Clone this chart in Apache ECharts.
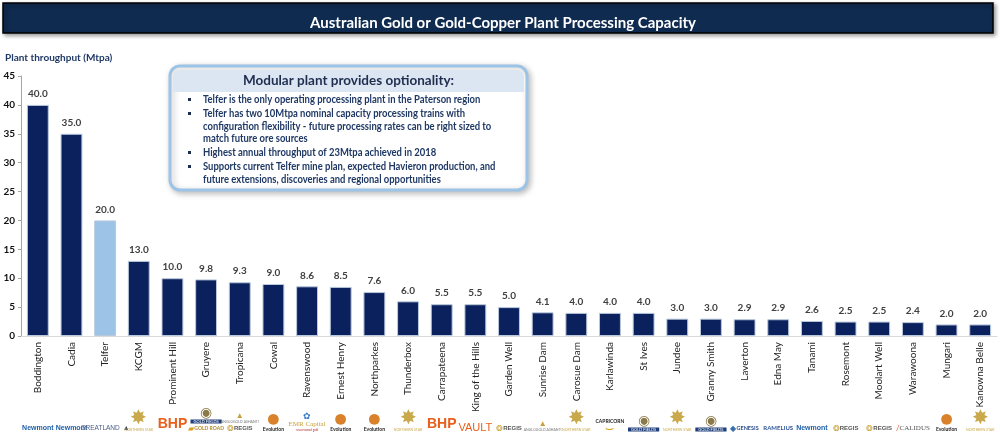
<!DOCTYPE html>
<html>
<head>
<meta charset="utf-8">
<script src="https://cdn.jsdelivr.net/npm/echarts@6/dist/echarts.min.js"></script>
<style>
  html, body { margin: 0; padding: 0; background: #fff; }
  #chart { width: 1000px; height: 437px; }
</style>
</head>
<body>
<div id="chart"></div>
<script>
// plant names and throughput (Mtpa)
const plants = ['Boddington', 'Cadia', 'Telfer', 'KCGM', 'Prominent Hill', 'Gruyere', 'Tropicana', 'Cowal',
  'Ravenswood', 'Ernest Henry', 'Northparkes', 'Thunderbox', 'Carrapateena', 'King of the Hills', 'Garden Well',
  'Sunrise Dam', 'Carosue Dam', 'Karlawinda', 'St Ives', 'Jundee', 'Granny Smith', 'Laverton', 'Edna May',
  'Tanami', 'Rosemont', 'Moolart Well', 'Warawoona', 'Mungari', 'Kanowna Belle']
const throughput = [40.0, 35.0, 20.0, 13.0, 10.0, 9.8, 9.3, 9.0, 8.6, 8.5, 7.6, 6.0, 5.5, 5.5, 5.0,
  4.1, 4.0, 4.0, 4.0, 3.0, 3.0, 2.9, 2.9, 2.6, 2.5, 2.5, 2.4, 2.0, 2.0]
// owner logos shown under each plant
const owners = ['Newmont', 'Newmont', 'Greatland', 'Northern Star', 'BHP', 'Gold Fields|Gold Road',
  'AngloGold|Regis', 'Evolution', 'EMR Capital', 'Evolution', 'Evolution', 'Northern Star', 'BHP', 'Vault',
  'Regis', 'AngloGold', 'Northern Star', 'Capricorn', 'Gold Fields', 'Northern Star', 'Gold Fields',
  'Genesis', 'Ramelius', 'Newmont', 'Regis', 'Regis', 'Calidus', 'Evolution', 'Northern Star']
const highlight = 'Telfer'
const yTicks = { min: 0, max: 45, interval: 5 }

const boxTitle = 'Modular plant provides optionality:'
const boxLines = [
  ['Telfer is the only operating processing plant in the Paterson region'],
  ['Telfer has two 10Mtpa nominal capacity processing trains with',
   'configuration flexibility - future processing rates can be right sized to',
   'match future ore sources'],
  ['Highest annual throughput of 23Mtpa achieved in 2018'],
  ['Supports current Telfer mine plan, expected Havieron production, and',
   'future extensions, discoveries and regional opportunities']
]

const NAVY = '#0b215e'
const LIGHT = '#9dc3e6'
const FONT = 'Lato'

const logoText = {
  'Newmont': '{nm|Newmont}',
  'BHP': '{bhp|BHP}',
  'Greatland': '{gl|GREATLAND} {glc|▲}',
  'Northern Star': '{nsStar|✸}\n{nsTxt|NORTHERN STAR}',
  'Evolution': '{evoDot|●}\n{evoTxt|Evolution}',
  'Gold Fields': '{gfC|◉}\n{gfTxt|GOLD FIELDS}',
  'Regis': '{rgM|❂}{rg|REGIS}',
  'AngloGold': '{agM|▲}\n{agTxt|ANGLOGOLD ASHANTI}',
  'EMR Capital': '{emM|✿}\n{em|EMR Capital}\n{emS|ravenswood gold}',
  'Vault': '{vt|VAULT}',
  'Capricorn': '{cp|CAPRICORN}\n{cpS|⌣}',
  'Genesis': '{gnM|◆}{gn|GENESIS}',
  'Ramelius': '{rm|RAMELIUS}',
  'Calidus': '{clM|/}{cl|CALIDUS}',
  'Gold Fields|Gold Road': '{gfC|◉}\n{gfTxt|GOLD FIELDS}\n{grM|▰}{gr|GOLD ROAD}',
  'AngloGold|Regis': '{agM|▲}\n{agTxt|ANGLOGOLD ASHANTI}\n{rgM|❂}{rg|REGIS}'
}

const chart = echarts.init(document.getElementById('chart'))

const boxX = 170, boxY = 66, boxW = 357, boxH = 124
const boxGraphics = [
  {
    type: 'rect',
    shape: { x: boxX, y: boxY, width: boxW, height: boxH, r: 10 },
    style: { fill: '#fff', stroke: LIGHT, lineWidth: 3, shadowBlur: 6, shadowColor: 'rgba(0,0,0,0.25)', shadowOffsetX: 2, shadowOffsetY: 2 },
    z: 10
  },
  {
    type: 'rect',
    shape: { x: boxX + 3, y: boxY + 4, width: boxW - 6, height: 22, r: [7, 7, 0, 0] },
    style: { fill: '#dce6f2' },
    z: 11
  },
  {
    type: 'text',
    x: boxX + boxW / 2, y: boxY + 15,
    style: { text: boxTitle, fill: '#1f2d4f', font: 'bold 13.5px ' + FONT, align: 'center', verticalAlign: 'middle' },
    z: 12
  }
]
let ly = boxY + 34
boxLines.forEach(item => {
  boxGraphics.push({
    type: 'rect',
    shape: { x: boxX + 18, y: ly - 2, width: 3, height: 3 },
    style: { fill: '#1f2d4f' },
    z: 12
  })
  item.forEach(line => {
    boxGraphics.push({
      type: 'text',
      x: boxX + 33, y: ly,
      scaleX: 0.9,
      style: { text: line, fill: '#1f3864', font: 'bold 10.5px ' + FONT, verticalAlign: 'middle' },
      z: 12
    })
    ly += 12.5
  })
  ly += 1.5
})

const option = {
  animation: false,
  textStyle: { fontFamily: FONT },
  title: [
    {
      text: 'Australian Gold or Gold-Copper Plant Processing Capacity',
      left: 498, top: 18, textAlign: 'center', textVerticalAlign: 'middle',
      textStyle: { color: '#fff', fontSize: 15, fontWeight: 'bold', fontFamily: FONT },
      z: 5
    },
    {
      text: 'Plant throughput (Mtpa)',
      left: 0, top: 48,
      textStyle: { color: '#1f3864', fontSize: 10, fontWeight: 'bold', fontFamily: FONT }
    }
  ],
  graphic: [
    {
      type: 'rect',
      shape: { x: 3, y: 3, width: 990, height: 30 },
      style: { fill: '#0f2b50', stroke: '#000', lineWidth: 1.5, shadowBlur: 4, shadowColor: 'rgba(0,0,0,0.4)', shadowOffsetX: 2, shadowOffsetY: 2 },
      z: 0
    }
  ].concat(boxGraphics),
  grid: { left: 21, right: 3, top: 76, bottom: 101, containLabel: false },
  xAxis: [
    {
      type: 'category',
      data: plants,
      axisLine: { lineStyle: { color: '#d9d9d9', width: 1 } },
      axisTick: { show: false },
      axisLabel: { rotate: 90, interval: 0, color: '#222', fontSize: 10, fontFamily: FONT, margin: 6 }
    },
    {
      type: 'category',
      data: owners,
      position: 'bottom',
      axisLine: { show: false },
      axisTick: { show: false },
      axisLabel: {
        interval: 0, margin: 96, verticalAlign: 'bottom', hideOverlap: false, align: 'center',
        lineHeight: 8,
        formatter: v => logoText[v] || v,
        rich: {
          nm: { color: '#1f5fa8', fontWeight: 'bold', fontSize: 7, fontFamily: 'Liberation Sans' },
          bhp: { color: '#e8601c', fontWeight: 'bold', fontSize: 14, fontFamily: 'Liberation Sans', lineHeight: 15 },
          gl: { color: '#4a5e85', fontSize: 6.5, fontFamily: 'Liberation Sans' },
          glc: { color: '#2c3e66', fontSize: 7 },
          nsStar: { color: '#c9a94b', fontSize: 20, lineHeight: 18 },
          nsTxt: { color: '#c9a94b', fontSize: 3.5, lineHeight: 5 },
          evoDot: { color: '#d9822b', fontSize: 22, lineHeight: 14 },
          evoTxt: { color: '#222', fontSize: 5, fontWeight: 'bold', lineHeight: 6 },
          gfC: { color: '#8a7a4a', fontSize: 14, lineHeight: 14 },
          gfTxt: { color: '#fff', backgroundColor: '#1f3f7a', fontSize: 4, lineHeight: 5, padding: [0, 3] },
          rgM: { color: '#c9a038', fontSize: 8 },
          rg: { color: '#555', fontSize: 6, fontWeight: 'bold', fontFamily: 'Liberation Sans' },
          agM: { color: '#c9a038', fontSize: 8, lineHeight: 8 },
          agTxt: { color: '#777', fontSize: 3.5, lineHeight: 5 },
          emM: { color: '#3a7bc8', fontSize: 9, lineHeight: 9 },
          em: { color: '#c9a038', fontSize: 7, fontFamily: 'Liberation Serif', lineHeight: 7 },
          emS: { color: '#b33', fontSize: 3, lineHeight: 4 },
          vt: { color: '#e8601c', fontSize: 11, fontFamily: 'Liberation Sans' },
          cp: { color: '#222', fontSize: 5, fontWeight: 'bold', lineHeight: 6 },
          cpS: { color: '#d9a020', fontSize: 14, lineHeight: 8 },
          gnM: { color: '#3a6fb0', fontSize: 8 },
          gn: { color: '#2a4a8a', fontSize: 5.5, fontWeight: 'bold' },
          rm: { color: '#2e5597', fontSize: 6, fontWeight: 'bold' },
          clM: { color: '#e8601c', fontSize: 8 },
          cl: { color: '#555', fontSize: 7, fontFamily: 'Liberation Serif' },
          grM: { color: '#d9a020', fontSize: 8 },
          gr: { color: '#b08a2a', fontSize: 5, fontWeight: 'bold' }
        }
      }
    }
  ],
  yAxis: {
    type: 'value',
    min: yTicks.min, max: yTicks.max, interval: yTicks.interval,
    splitLine: { show: false },
    axisLine: { show: true, lineStyle: { color: '#a6a6a6' } },
    axisTick: { show: true, length: 3, lineStyle: { color: '#a6a6a6' } },
    axisLabel: { color: '#111', fontSize: 10, fontWeight: 'bold', fontFamily: FONT, margin: 6 }
  },
  series: [
    {
      type: 'bar',
      xAxisIndex: 0,
      barCategoryGap: '35%',
      data: throughput.map((v, i) => ({
        value: v,
        itemStyle: { color: plants[i] === highlight ? LIGHT : NAVY }
      })),
      itemStyle: { borderColor: '#b9c8dc', borderWidth: 1 },
      label: {
        show: true, position: 'top', distance: 6,
        color: '#404040', fontSize: 10, fontWeight: 'bold', fontFamily: FONT,
        formatter: p => p.value.toFixed(1)
      }
    }
  ]
}

chart.setOption(option)
</script>
</body>
</html>
